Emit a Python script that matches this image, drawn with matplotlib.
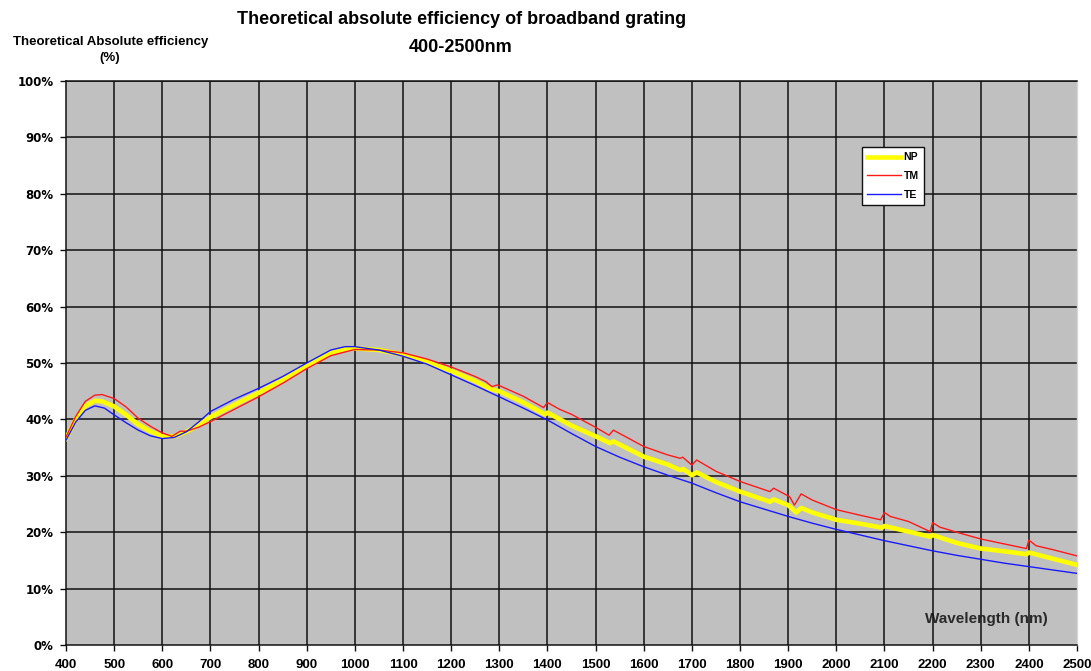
import matplotlib
matplotlib.use("Agg")
import matplotlib.pyplot as plt

# ---------------- data ----------------
te_wl = [400, 420, 440, 460, 480, 500, 525, 550, 575, 600, 625, 650, 675, 700,
         750, 800, 850, 900, 950, 980, 1000, 1050, 1100, 1150, 1200, 1250, 1300,
         1350, 1400, 1450, 1500, 1550, 1600, 1650, 1700, 1750, 1800, 1850, 1900,
         1950, 2000, 2050, 2100, 2150, 2200, 2250, 2300, 2350, 2400, 2450, 2500]
te_val = [36.3, 39.5, 41.6, 42.4, 42.0, 40.8, 39.4, 38.1, 37.1, 36.6, 36.8, 37.8,
          39.5, 41.4, 43.6, 45.5, 47.6, 50.0, 52.3, 52.9, 52.9, 52.3, 51.2, 49.8,
          47.9, 46.0, 44.0, 42.0, 39.9, 37.5, 35.2, 33.3, 31.6, 30.1, 28.7, 27.0,
          25.4, 24.1, 22.8, 21.6, 20.5, 19.5, 18.5, 17.6, 16.7, 15.9, 15.2, 14.5,
          13.9, 13.3, 12.7]

tm_wl = [400, 420, 440, 460, 475, 500, 525, 550, 575, 600, 620, 637, 650, 675,
         700, 750, 800, 850, 900, 950, 1000, 1050, 1100, 1150, 1200, 1250, 1272,
         1285, 1295, 1300, 1350, 1392, 1400, 1425, 1450, 1500, 1528, 1537, 1600,
         1650, 1676, 1681, 1700, 1710, 1750, 1800, 1862, 1870, 1903, 1913, 1927,
         1950, 2000, 2050, 2092, 2100, 2112, 2150, 2195, 2200, 2215, 2250, 2300,
         2350, 2395, 2400, 2415, 2450, 2500]
tm_val = [36.9, 40.5, 43.2, 44.3, 44.4, 43.7, 42.2, 40.2, 38.8, 37.6, 37.0, 37.9,
          37.9, 38.6, 39.6, 41.8, 44.0, 46.4, 49.0, 51.3, 52.4, 52.3, 51.8, 50.7,
          49.3, 47.6, 46.7, 45.8, 46.1, 46.0, 44.1, 42.1, 43.0, 41.8, 40.9, 38.6,
          37.2, 38.1, 35.2, 33.7, 33.1, 33.3, 31.9, 32.8, 30.8, 29.0, 27.2, 27.8,
          26.3, 24.8, 26.8, 25.7, 24.0, 23.0, 22.2, 23.5, 22.8, 21.9, 20.1, 21.7,
          20.9, 20.0, 18.8, 17.9, 17.1, 18.6, 17.6, 16.9, 15.8]

np_wl = [400, 420, 440, 460, 475, 500, 525, 550, 575, 600, 625, 650, 675, 700,
         750, 800, 850, 900, 950, 980, 1000, 1050, 1100, 1150, 1200, 1250, 1275,
         1285, 1300, 1350, 1395, 1400, 1450, 1500, 1530, 1537, 1600, 1650, 1676,
         1682, 1700, 1710, 1750, 1800, 1862, 1870, 1900, 1917, 1927, 1950, 2000,
         2050, 2095, 2100, 2150, 2195, 2200, 2250, 2300, 2350, 2395, 2400, 2450,
         2500]
np_val = [36.6, 40.0, 42.4, 43.3, 43.2, 42.3, 40.8, 39.1, 37.9, 37.0, 37.0, 37.8,
          39.0, 40.4, 42.6, 44.7, 47.0, 49.5, 51.8, 52.5, 52.6, 52.3, 51.5, 50.2,
          48.6, 46.8, 45.7, 45.3, 45.0, 43.0, 40.9, 41.2, 38.9, 37.0, 35.8, 36.1,
          33.4, 32.0, 31.0, 31.2, 30.1, 30.6, 28.9, 27.2, 25.4, 25.8, 24.8, 23.5,
          24.3, 23.5, 22.2, 21.5, 20.8, 21.1, 20.1, 19.2, 19.5, 18.1, 17.1, 16.6,
          16.1, 16.4, 15.3, 14.2]

x_ticks = list(range(400, 2501, 100))
y_ticks = list(range(0, 101, 10))
y_labels = [f"{v}%" for v in y_ticks]
series_labels = ["NP", "TM", "TE"]

# ---------------- figure ----------------
W, H = 1091, 671
fig = plt.figure(figsize=(W / 100, H / 100), dpi=100)
fig.patch.set_facecolor("white")
ax = fig.add_axes([66 / W, 1 - 645 / H, (1077 - 66) / W, (645 - 81) / H])
ax.set_facecolor("#c0c0c0")

ax.set_xlim(400, 2500)
ax.set_ylim(0, 100)

# grid
for v in y_ticks[1:]:
    ax.axhline(v, color="#111111", lw=1.1, zorder=1)
for v in x_ticks[1:-1]:
    ax.axvline(v, color="#111111", lw=1.1, zorder=1)

l_np, = ax.plot(np_wl, np_val, color="#ffff00", lw=3.3, zorder=3,
                solid_joinstyle="round")
l_tm, = ax.plot(tm_wl, tm_val, color="#ff1a1a", lw=1.0, zorder=4)
l_te, = ax.plot(te_wl, te_val, color="#1a1aff", lw=1.0, zorder=4)

# spines
for s in ["left", "bottom", "top"]:
    ax.spines[s].set_color("#111111")
    ax.spines[s].set_linewidth(1.1)
ax.spines["right"].set_color("#d8d8d8")
ax.spines["right"].set_linewidth(1.0)

ax.set_xticks(x_ticks)
ax.set_xticklabels([str(v) for v in x_ticks], fontfamily="Liberation Sans",
                   fontweight="bold", fontsize=9.5)
ax.set_yticks(y_ticks)
ax.set_yticklabels(y_labels, fontfamily="DejaVu Sans", fontweight="bold",
                   fontsize=8.5)
ax.tick_params(axis="x", direction="out", length=4, width=1.0, pad=6,
               color="#111111")
ax.tick_params(axis="y", direction="out", length=4, width=1.0, pad=5,
               color="#111111")

# titles
fig.text(462 / W, 1 - 20 / H, "Theoretical absolute efficiency of broadband grating",
         ha="center", va="center", fontfamily="Liberation Sans",
         fontweight="bold", fontsize=13)
fig.text(461 / W, 1 - 48 / H, "400-2500nm", ha="center", va="center",
         fontfamily="Liberation Sans", fontweight="bold", fontsize=13)
fig.text(111 / W, 1 - 42 / H, "Theoretical Absolute efficiency", ha="center",
         va="center", fontfamily="Liberation Sans", fontweight="bold",
         fontsize=9.5)
fig.text(110 / W, 1 - 58 / H, "(%)", ha="center", va="center",
         fontfamily="Liberation Sans", fontweight="bold", fontsize=9.5)

# axis title inside the plot, drawn beneath the grid lines
ax.text(986 / W, 1 - 619 / H, "Wavelength (nm)", ha="center", va="center",
        transform=fig.transFigure, fontfamily="Liberation Sans",
        fontweight="bold", fontsize=11, color="#2a2a2a", zorder=0.5)

leg = ax.legend([l_np, l_tm, l_te], series_labels,
                loc="upper left", bbox_to_anchor=((862 - 66) / 1011, (645 - 147) / 564),
                borderaxespad=0, fancybox=False, framealpha=1,
                edgecolor="#111111", facecolor="white",
                prop={"family": "Liberation Sans", "weight": "bold", "size": 7.5},
                handlelength=3.2, handletextpad=0.3, labelspacing=0.85,
                borderpad=0.5)
leg.get_frame().set_linewidth(1.0)
leg.set_zorder(6)

fig.savefig("out.png", dpi=100, facecolor="white")
